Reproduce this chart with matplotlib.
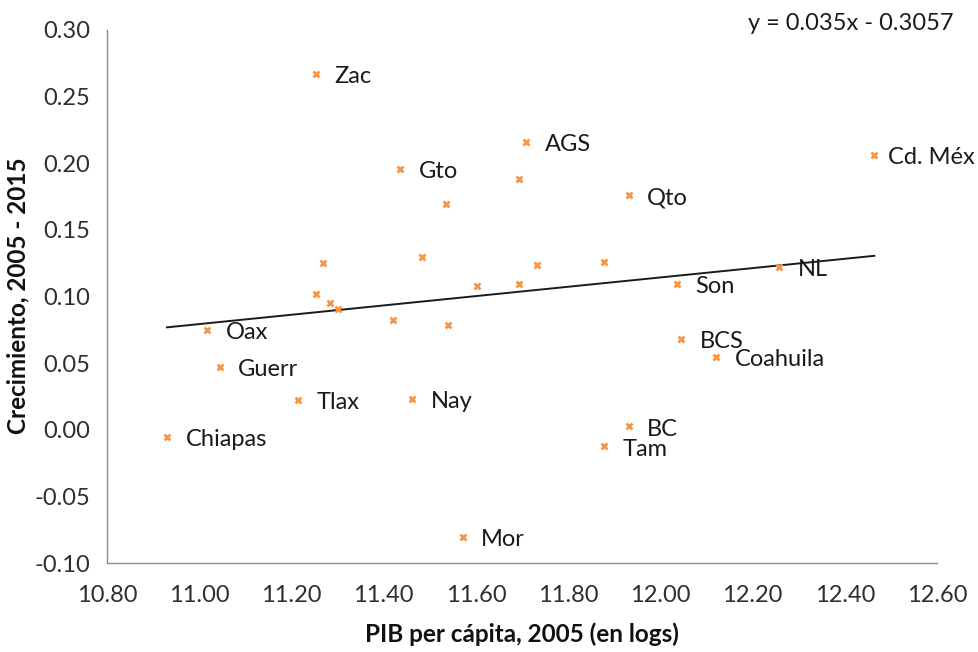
import matplotlib
matplotlib.use("Agg")
import matplotlib.pyplot as plt
import numpy as np

# ---- data ----
states = ["Zac", "AGS", "Gto", "", "", "", "", "", "", "", "", "", "", "", "",
          "Oax", "Guerr", "Tlax", "Nay", "Chiapas", "Mor", "Cd. Méx", "Qto", "",
          "NL", "Son", "BCS", "Coahuila", "BC", "Tam"]
pib_log = [11.253, 11.709, 11.436, 11.694, 11.536, 11.269, 11.483, 11.733, 11.602,
           11.694, 11.253, 11.284, 11.301, 11.420, 11.539,
           11.017, 11.044, 11.214, 11.461, 10.930, 11.571, 12.464, 11.931, 11.878,
           12.258, 12.036, 12.045, 12.120, 11.931, 11.878]
crecimiento = [0.2669, 0.2163, 0.1960, 0.1882, 0.1691, 0.1251, 0.1296, 0.1238, 0.1076,
               0.1096, 0.1019, 0.0951, 0.0904, 0.0826, 0.0789,
               0.0751, 0.0472, 0.0225, 0.0232, -0.0055, -0.0804, 0.2065, 0.1758, 0.1258,
               0.1221, 0.1094, 0.0682, 0.0547, 0.0025, -0.0125]
slope = 0.035
intercept = -0.3057
equation_text = "y = 0.035x - 0.3057"
x_ticks = [10.80, 11.00, 11.20, 11.40, 11.60, 11.80, 12.00, 12.20, 12.40, 12.60]
y_ticks = [-0.10, -0.05, 0.00, 0.05, 0.10, 0.15, 0.20, 0.25, 0.30]
x_title = "PIB per cápita, 2005 (en logs)"
y_title = "Crecimiento, 2005 - 2015"

plt.rcParams['font.family'] = ['Lato', 'DejaVu Sans']

fig = plt.figure(figsize=(9.79, 6.52), dpi=100)
ax = fig.add_axes([107/979, 1-563/652, (937-107)/979, (563-30)/652])

marker_color = "#F79646"
ax.plot(pib_log, crecimiento, linestyle="none", marker="x", ms=4.5, mew=2.0,
        color=marker_color, zorder=3)

xs = np.array([min(pib_log), max(pib_log)])
ax.plot(xs, slope * xs + intercept, color="#1a1a1a", lw=1.4, zorder=2)

for name, xv, yv in zip(states, pib_log, crecimiento):
    if not name:
        continue
    dx = 10 if name == "Cd. Méx" else 13.5
    ax.annotate(name, (xv, yv), xytext=(dx, -2), textcoords="offset points",
                ha="left", va="center", fontsize=17, color="#1a1a1a", zorder=4)

ax.set_xlim(10.80, 12.60)
ax.set_ylim(-0.10, 0.30)
ax.set_xticks(x_ticks)
ax.set_xticklabels([f"{v:.2f}" for v in x_ticks])
ax.set_yticks(y_ticks)
ax.set_yticklabels([f"{v:.2f}" for v in y_ticks])
ax.tick_params(length=0, labelsize=17, labelcolor="#2e2e2e", pad=12)
ax.tick_params(axis='x', pad=16)

for s in ["top", "right"]:
    ax.spines[s].set_visible(False)
for s in ["left", "bottom"]:
    ax.spines[s].set_color("#8c8c8c")
    ax.spines[s].set_linewidth(1.0)

fig.text(522/979, 1-634/652, x_title, ha="center", va="center",
         fontsize=17.5, fontweight="bold", color="#111111")
fig.text(18/979, 1-296/652, y_title, ha="center", va="center", rotation=90,
         fontsize=17.5, fontweight="bold", color="#111111")
fig.text(954/979, 1-23/652, equation_text, ha="right", va="center",
         fontsize=17, color="#1a1a1a")

fig.savefig("out.png", dpi=100)
